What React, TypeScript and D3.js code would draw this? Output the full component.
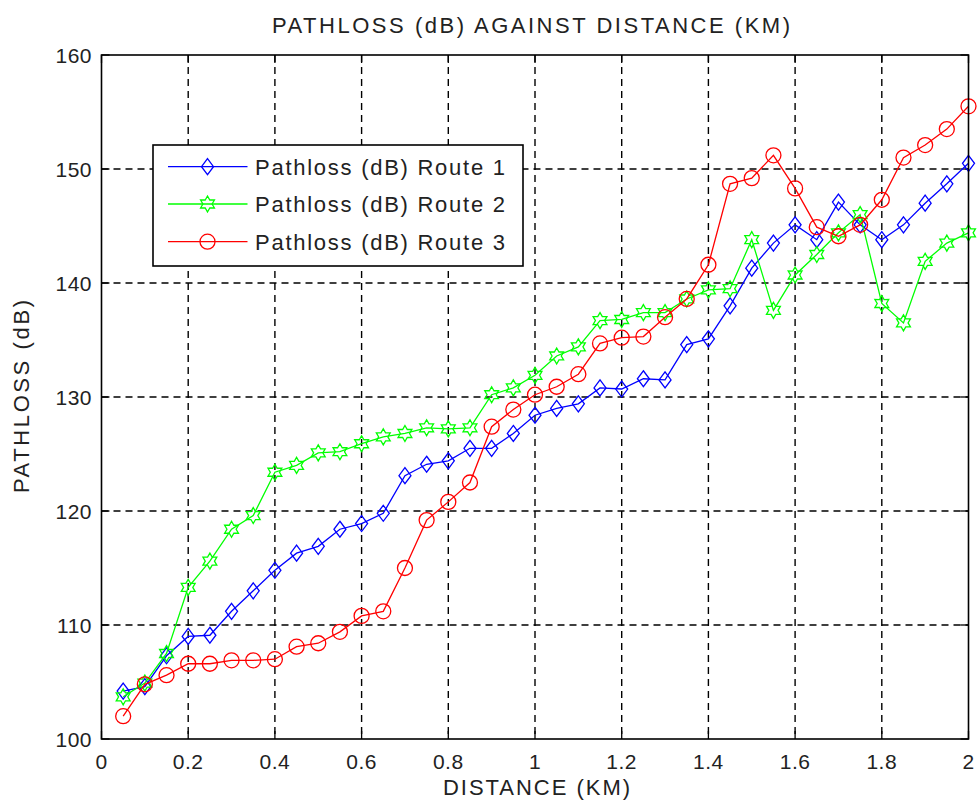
import React, { useEffect, useRef } from "react";
import * as d3 from "d3";

// Distance (km) at which path loss was sampled
const distances = [
  0.05, 0.1, 0.15, 0.2, 0.25, 0.3, 0.35, 0.4, 0.45, 0.5,
  0.55, 0.6, 0.65, 0.7, 0.75, 0.8, 0.85, 0.9, 0.95, 1.0,
  1.05, 1.1, 1.15, 1.2, 1.25, 1.3, 1.35, 1.4, 1.45, 1.5,
  1.55, 1.6, 1.65, 1.7, 1.75, 1.8, 1.85, 1.9, 1.95, 2.0,
];

// Path loss (dB) per route
const route1 = [
  104.2, 104.6, 107.3, 109.0, 109.1, 111.2, 113.0, 114.8, 116.3, 116.9,
  118.4, 118.9, 119.8, 123.1, 124.1, 124.4, 125.5, 125.5, 126.8, 128.4,
  129.0, 129.4, 130.8, 130.7, 131.6, 131.5, 134.6, 135.1, 138.0, 141.3,
  143.5, 145.1, 143.8, 147.1, 145.1, 143.8, 145.1, 147.0, 148.7, 150.5,
];
const route2 = [
  103.7, 104.9, 107.5, 113.3, 115.6, 118.4, 119.6, 123.4, 124.0, 125.1,
  125.2, 125.9, 126.5, 126.8, 127.3, 127.2, 127.3, 130.2, 130.8, 131.9,
  133.6, 134.4, 136.7, 136.8, 137.4, 137.4, 138.6, 139.4, 139.5, 143.8,
  137.6, 140.7, 142.5, 144.4, 146.0, 138.2, 136.5, 141.9, 143.5, 144.4,
];
const route3 = [
  102.0, 104.8, 105.6, 106.6, 106.6, 106.9, 106.9, 107.0, 108.1, 108.4,
  109.4, 110.8, 111.2, 115.0, 119.2, 120.8, 122.5, 127.4, 128.9, 130.2,
  130.9, 132.0, 134.7, 135.2, 135.3, 137.0, 138.6, 141.6, 148.7, 149.2,
  151.2, 148.3, 144.9, 144.1, 145.1, 147.3, 151.0, 152.1, 153.5, 155.5,
];

const seriesNames = [
  "Pathloss (dB) Route 1",
  "Pathloss (dB) Route 2",
  "Pathloss (dB) Route 3",
];
const seriesColors = ["#0000ff", "#00ff00", "#ff0000"];
const seriesMarkers = ["diamond", "hexagram", "circle"];

const xTicks = [0, 0.2, 0.4, 0.6, 0.8, 1, 1.2, 1.4, 1.6, 1.8, 2];
const yTicks = [100, 110, 120, 130, 140, 150, 160];

const titleText = "PATHLOSS (dB) AGAINST DISTANCE (KM)";
const xLabelText = "DISTANCE (KM)";
const yLabelText = "PATHLOSS (dB)";

const W = 980;
const H = 809;
const margin = { left: 101.5, right: W - 968.5, top: 55, bottom: H - 739 };
const FONT = "'Liberation Sans', Arial, Helvetica, sans-serif";

function markerPath(kind: string): string {
  if (kind === "diamond") {
    const hw = 6, hh = 8;
    return `M0,${-hh}L${hw},0L0,${hh}L${-hw},0Z`;
  }
  if (kind === "hexagram") {
    const ro = 8, ri = 4.6;
    const pts: string[] = [];
    for (let i = 0; i < 12; i++) {
      const r = i % 2 === 0 ? ro : ri;
      const a = (Math.PI / 6) * i - Math.PI / 2;
      pts.push(`${(r * Math.cos(a)).toFixed(2)},${(r * Math.sin(a)).toFixed(2)}`);
    }
    return "M" + pts.join("L") + "Z";
  }
  const r = 7.5;
  return `M${r},0A${r},${r} 0 1,1 ${-r},0A${r},${r} 0 1,1 ${r},0Z`;
}

export default function App() {
  const ref = useRef<SVGSVGElement | null>(null);

  useEffect(() => {
    const svg = d3.select(ref.current);
    svg.selectAll("*").remove();

    const x = d3.scaleLinear().domain([0, 2]).range([margin.left, W - margin.right]);
    const y = d3.scaleLinear().domain([100, 160]).range([H - margin.bottom, margin.top]);
    const [x0, x1] = x.range();
    const [y0, y1] = y.range();

    svg.append("rect").attr("width", W).attr("height", H).attr("fill", "#fff");

    // Grid
    const grid = svg.append("g")
      .attr("stroke", "#000")
      .attr("stroke-width", 1.4)
      .attr("stroke-dasharray", "7,5");
    grid.selectAll("line.vx")
      .data(xTicks.slice(1, -1))
      .join("line")
      .attr("x1", (d) => x(d)).attr("x2", (d) => x(d))
      .attr("y1", y1).attr("y2", y0);
    grid.selectAll("line.hy")
      .data(yTicks.slice(1, -1))
      .join("line")
      .attr("x1", x0).attr("x2", x1)
      .attr("y1", (d) => y(d)).attr("y2", (d) => y(d));

    // Inner tick marks on all sides
    const ticks = svg.append("g").attr("stroke", "#000").attr("stroke-width", 1.3);
    const tl = 8;
    xTicks.forEach((t) => {
      ticks.append("line").attr("x1", x(t)).attr("x2", x(t)).attr("y1", y0).attr("y2", y0 - tl);
      ticks.append("line").attr("x1", x(t)).attr("x2", x(t)).attr("y1", y1).attr("y2", y1 + tl);
    });
    yTicks.forEach((t) => {
      ticks.append("line").attr("x1", x0).attr("x2", x0 + tl).attr("y1", y(t)).attr("y2", y(t));
      ticks.append("line").attr("x1", x1).attr("x2", x1 - tl).attr("y1", y(t)).attr("y2", y(t));
    });

    // Series
    const allSeries = [route1, route2, route3];
    const line = d3.line<number>()
      .x((_, i) => x(distances[i]))
      .y((d) => y(d));
    allSeries.forEach((vals, si) => {
      const g = svg.append("g");
      g.append("path")
        .attr("d", line(vals) as string)
        .attr("fill", "none")
        .attr("stroke", seriesColors[si])
        .attr("stroke-width", 1.3);
      g.selectAll("path.m")
        .data(vals)
        .join("path")
        .attr("class", "m")
        .attr("d", markerPath(seriesMarkers[si]))
        .attr("transform", (d, i) => `translate(${x(distances[i])},${y(d)})`)
        .attr("fill", "none")
        .attr("stroke", seriesColors[si])
        .attr("stroke-width", 1.3);
    });

    // Axes box
    svg.append("rect")
      .attr("x", x0).attr("y", y1)
      .attr("width", x1 - x0).attr("height", y0 - y1)
      .attr("fill", "none").attr("stroke", "#000").attr("stroke-width", 1.6);

    // Tick labels
    const labels = svg.append("g")
      .attr("font-family", FONT)
      .attr("font-size", 21)
      .attr("fill", "#222");
    labels.selectAll("text.xt")
      .data(xTicks)
      .join("text")
      .attr("x", (d) => x(d))
      .attr("y", 769)
      .attr("text-anchor", "middle")
      .attr("letter-spacing", 0.5)
      .text((d) => d3.format("~g")(d));
    labels.selectAll("text.yt")
      .data(yTicks)
      .join("text")
      .attr("x", 92)
      .attr("y", (d) => y(d) + 7.5)
      .attr("text-anchor", "end")
      .attr("letter-spacing", 0.5)
      .text((d) => String(d));

    // Title and axis labels
    svg.append("text")
      .attr("x", 272).attr("y", 33)
      .attr("font-family", FONT).attr("font-size", 22).attr("fill", "#222")
      .attr("textLength", 518).attr("lengthAdjust", "spacing")
      .text(titleText);
    svg.append("text")
      .attr("x", 443).attr("y", 795)
      .attr("font-family", FONT).attr("font-size", 22).attr("fill", "#222")
      .attr("textLength", 187).attr("lengthAdjust", "spacing")
      .text(xLabelText);
    svg.append("text")
      .attr("transform", "translate(29,493) rotate(-90)")
      .attr("font-family", FONT).attr("font-size", 22).attr("fill", "#222")
      .attr("textLength", 193).attr("lengthAdjust", "spacing")
      .text(yLabelText);

    // Legend
    const lg = svg.append("g");
    lg.append("rect")
      .attr("x", 153).attr("y", 145)
      .attr("width", 370).attr("height", 121)
      .attr("fill", "#fff").attr("stroke", "#000").attr("stroke-width", 1.6);
    const rowY = [166.7, 204, 241.7];
    seriesNames.forEach((name, i) => {
      lg.append("line")
        .attr("x1", 168).attr("x2", 247.5)
        .attr("y1", rowY[i]).attr("y2", rowY[i])
        .attr("stroke", seriesColors[i]).attr("stroke-width", 1.3);
      lg.append("path")
        .attr("d", markerPath(seriesMarkers[i]))
        .attr("transform", `translate(207.5,${rowY[i]})`)
        .attr("fill", "none")
        .attr("stroke", seriesColors[i]).attr("stroke-width", 1.3);
      lg.append("text")
        .attr("x", 255).attr("y", rowY[i] + 8)
        .attr("font-family", FONT).attr("font-size", 22).attr("fill", "#222")
        .attr("textLength", 250).attr("lengthAdjust", "spacing")
        .text(name);
    });
  }, []);

  return (
    <svg
      ref={ref}
      width={W}
      height={H}
      style={{ position: "absolute", left: 0, top: 0, display: "block" }}
    />
  );
}
